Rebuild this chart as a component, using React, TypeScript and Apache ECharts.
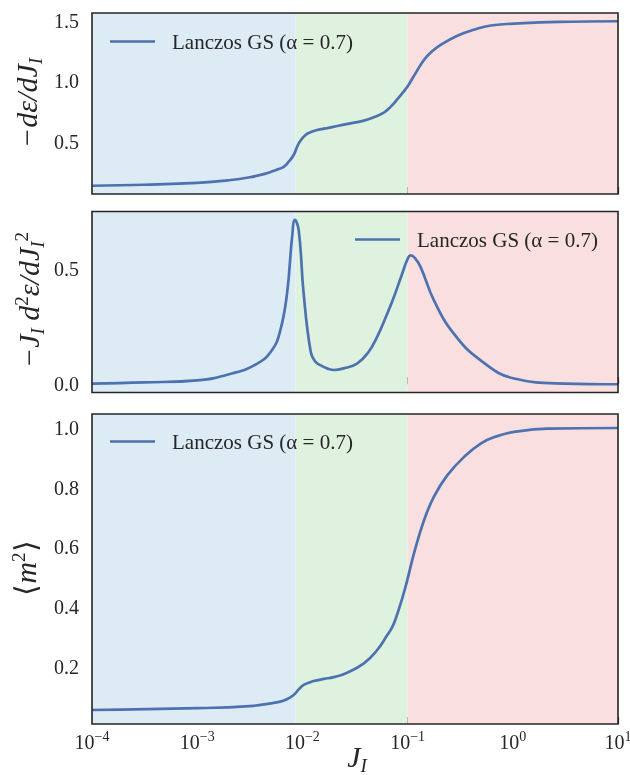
import React, { useEffect, useRef } from 'react';
import * as echarts from 'echarts';

const SERIES_NAME = 'Lanczos GS (α = 0.7)';

// Phase regions along J_I
const regionEdges = [1e-4, 8.6e-3, 0.1, 10];
const regionColors = ['#ddebf4', '#dff1df', '#f9dfdf'];

// Panel 1: -dε/dJ_I
const jDe = [1e-4, 3.16e-4, 1e-3, 2e-3, 3.16e-3, 4.47e-3, 5.62e-3, 6.64e-3, 7.41e-3, 8.26e-3, 8.91e-3, 9.57e-3, 1.07e-2, 1.19e-2, 1.38e-2, 1.72e-2, 2.14e-2, 2.86e-2, 3.84e-2, 4.78e-2, 5.94e-2, 6.89e-2, 8.04e-2, 9.16e-2, 0.102, 0.114, 0.143, 0.17, 0.206, 0.297, 0.425, 0.617, 1.27, 2.69, 10];
const dE = [0.14, 0.148, 0.163, 0.185, 0.21, 0.24, 0.27, 0.296, 0.338, 0.393, 0.461, 0.511, 0.558, 0.58, 0.599, 0.615, 0.632, 0.654, 0.676, 0.704, 0.742, 0.79, 0.855, 0.915, 0.97, 1.04, 1.176, 1.245, 1.3, 1.376, 1.425, 1.46, 1.48, 1.49, 1.495];

// Panel 2: -J_I d²ε/dJ_I²
const jD2 = [1e-4, 3.16e-4, 1e-3, 2.19e-3, 3.72e-3, 5.13e-3, 6.17e-3, 7.14e-3, 7.98e-3, 8.49e-3, 9.23e-3, 1.028e-2, 1.2e-2, 1.32e-2, 1.48e-2, 1.74e-2, 2.0e-2, 2.51e-2, 3.31e-2, 4.17e-2, 5.13e-2, 6.31e-2, 7.41e-2, 8.71e-2, 0.1, 0.107, 0.117, 0.133, 0.178, 0.275, 0.495, 1.03, 3.09, 10];
const d2E = [0.003, 0.008, 0.017, 0.048, 0.09, 0.148, 0.235, 0.394, 0.64, 0.716, 0.67, 0.394, 0.14, 0.1, 0.083, 0.068, 0.062, 0.07, 0.09, 0.135, 0.206, 0.3, 0.38, 0.47, 0.545, 0.561, 0.55, 0.51, 0.365, 0.22, 0.104, 0.025, 0.003, 0.0];

// Panel 3: <m²>
const jM = [1e-4, 1e-3, 3.16e-3, 5e-3, 6.17e-3, 7.14e-3, 8.26e-3, 9.23e-3, 1.028e-2, 1.148e-2, 1.28e-2, 1.6e-2, 1.99e-2, 2.67e-2, 3.84e-2, 5.14e-2, 6.41e-2, 7.08e-2, 7.69e-2, 8.91e-2, 9.93e-2, 0.115, 0.143, 0.178, 0.239, 0.344, 0.495, 0.7, 1.03, 2.14, 10];
const m2 = [0.055, 0.061, 0.068, 0.077, 0.083, 0.091, 0.105, 0.124, 0.139, 0.146, 0.152, 0.159, 0.165, 0.18, 0.211, 0.256, 0.306, 0.33, 0.36, 0.43, 0.49, 0.58, 0.69, 0.77, 0.842, 0.903, 0.948, 0.972, 0.987, 0.998, 1.0];

const yTicks1 = [0.5, 1.0, 1.5];
const yTicks2 = [0.0, 0.5];
const yTicks3 = [0.2, 0.4, 0.6, 0.8, 1.0];
const yRange1 = [0.072, 1.563];
const yRange2 = [-0.036, 0.752];
const yRange3 = [0.008, 1.047];

const LINE_COLOR = '#4c72b0';
const INK = '#262626';
const FONT = 'Liberation Serif';

const zip = (xs: number[], ys: number[]) => xs.map((x, i) => [x, ys[i]]);

export default function App() {
  const ref = useRef<HTMLDivElement>(null);
  useEffect(() => {
    if (!ref.current) return;
    const chart = echarts.init(ref.current, null, { renderer: 'svg' });

    const grids = [
      { left: 92, top: 13, width: 526, height: 181 },
      { left: 92, top: 211.5, width: 526, height: 181 },
      { left: 92, top: 414, width: 526, height: 310 },
    ].map((g) => ({
      ...g,
      show: true,
      z: 5,
      containLabel: false,
      outerBoundsMode: 'none',
      backgroundColor: 'transparent',
      borderColor: INK,
      borderWidth: 1.6,
    }));

    const xAxes = [0, 1, 2].map((i) => ({
      type: 'log',
      logBase: 10,
      gridIndex: i,
      min: 1e-4,
      max: 10,
      splitNumber: 5,
      axisLine: { show: false },
      splitLine: { show: false },
      minorTick: { show: false },
      axisTick: { show: true, inside: true, length: 7, lineStyle: { color: INK, width: 1.2 } },
      axisLabel: {
        show: i === 2,
        margin: 5,
        hideOverlap: false,
        formatter: (v: number) => {
          const e = Math.round(Math.log10(v));
          return '{b|10}{e|' + (e < 0 ? '−' + -e : String(e)) + '}';
        },
        rich: {
          b: { fontFamily: FONT, fontSize: 20, color: INK, verticalAlign: 'bottom' },
          e: { fontFamily: FONT, fontSize: 14, color: INK, verticalAlign: 'bottom', padding: [0, 0, 9, 0] },
        },
      },
    }));

    const mkY = (i: number, range: number[], ticks: number[]) => ({
      type: 'value',
      gridIndex: i,
      min: range[0],
      max: range[1],
      axisLine: { show: false },
      splitLine: { show: false },
      axisTick: { show: true, inside: true, length: 7, customValues: ticks, lineStyle: { color: INK, width: 1.2 } },
      axisLabel: {
        customValues: ticks,
        margin: 13,
        fontFamily: FONT,
        fontSize: 20,
        color: INK,
        formatter: (v: number) => v.toFixed(1),
      },
    });

    const bands = {
      silent: true,
      data: regionColors.map((c, k) => [
        { xAxis: regionEdges[k], itemStyle: { color: c, opacity: 1 } },
        { xAxis: regionEdges[k + 1] },
      ]),
    };

    const mkSeries = (i: number, xs: number[], ys: number[]) => ({
      type: 'line',
      name: SERIES_NAME,
      xAxisIndex: i,
      yAxisIndex: i,
      data: zip(xs, ys),
      symbol: 'none',
      showSymbol: false,
      smooth: 0.45,
      z: 3,
      lineStyle: { color: LINE_COLOR, width: 2.7 },
      itemStyle: { color: LINE_COLOR },
      markArea: bands,
    });

    const legendBase = {
      data: [SERIES_NAME],
      icon: 'rect',
      itemWidth: 45,
      itemHeight: 2.7,
      padding: 0,
      selectedMode: false,
      itemStyle: { color: LINE_COLOR },
      textStyle: { fontFamily: FONT, fontSize: 21, color: INK, padding: [0, 0, 0, 12] },
    };

    const mathT = { fontFamily: FONT, fontStyle: 'italic', fontSize: 30, fill: INK, verticalAlign: 'bottom', padding: [0, 0, 3, 0] };
    const mathR = { fontFamily: FONT, fontSize: 30, fill: INK, verticalAlign: 'bottom', padding: [0, 0, 3, 0] };
    const mathS = { fontFamily: FONT, fontStyle: 'italic', fontSize: 19, fill: INK, verticalAlign: 'bottom' };
    const mathP = { fontFamily: FONT, fontSize: 19, fill: INK, verticalAlign: 'bottom', padding: [0, 0, 16, 0] };
    const rich = { t: mathT, r: mathR, s: mathS, p: mathP };

    const nameText = (text: string, x: number, y: number, rotate: boolean) => ({
      type: 'text',
      x,
      y,
      rotation: rotate ? Math.PI / 2 : 0,
      silent: true,
      style: { text, rich, align: 'center', verticalAlign: 'middle', fill: INK },
    });

    chart.setOption({
      animation: false,
      grid: grids,
      xAxis: xAxes,
      yAxis: [mkY(0, yRange1, yTicks1), mkY(1, yRange2, yTicks2), mkY(2, yRange3, yTicks3)],
      legend: [
        { ...legendBase, left: 110, top: 31 },
        { ...legendBase, left: 355, top: 229 },
        { ...legendBase, left: 110, top: 431 },
      ],
      series: [mkSeries(0, jDe, dE), mkSeries(1, jD2, d2E), mkSeries(2, jM, m2)],
      graphic: [
        nameText('{t|−dε/dJ}{s|I}', 28, 103, true),
        nameText('{t|−J}{s|I}{t| d}{p|2}{t|ε/dJ}{s|I}{p|2}', 29, 300, true),
        nameText('{r|⟨}{t|m}{p|2}{r|⟩}', 26, 568, true),
        nameText('{t|J}{s|I}', 357, 758, false),
      ],
    });
    return () => chart.dispose();
  }, []);
  return <div ref={ref} style={{ position: 'fixed', left: 0, top: 0, width: 630, height: 775 }} />;
}
